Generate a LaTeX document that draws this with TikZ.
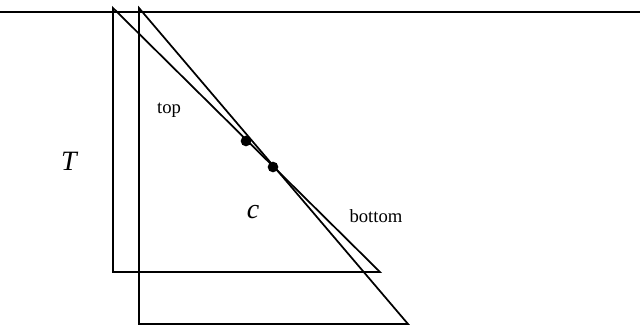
\documentclass[tikz,border=0pt]{standalone}
\usepackage{fontspec}
\setmainfont{Liberation Serif}
\usetikzlibrary{positioning}
\tikzset{
  edge/.style={line width=1.3pt, line join=miter},
  pt/.style={circle, fill=black, inner sep=0pt, minimum size=8pt},
  lbl/.style={font=\fontsize{14}{16}\selectfont, inner sep=0pt},
  sym/.style={font=\fontsize{21}{24}\selectfont\itshape, inner sep=0pt}
}

\begin{document}
\begin{tikzpicture}[x=0.75pt, y=-0.75pt]
\useasboundingbox (0,0) rectangle (640,328);
% surface line
\coordinate (sl) at (0,12);
\coordinate (sr) at (640,12);
\draw[line width=1pt] (sl) -- (sr);
% top triangle
\coordinate (ta) at (113,8);
\coordinate (tb) at (113,272);
\coordinate (tc) at (380,272);
\draw[edge] (ta) -- (tb) -- (tc) -- cycle;
% bottom triangle
\coordinate (ba) at (139,8);
\coordinate (bb) at (139,324);
\coordinate (bc) at (408,324);
\draw[edge] (ba) -- (bb) -- (bc) -- cycle;
% points
\node[pt] (p1) at (246,141) {};
\node[pt] (p2) at (273,167) {};
% labels
\node[sym] (T) at (69,161) {T};
\node[sym] (c) at (253,212) {c};
\node[lbl] (top) at (169,110) {top};
\node[lbl] (bot) at (376,216) {bottom};
\end{tikzpicture}
\end{document}
